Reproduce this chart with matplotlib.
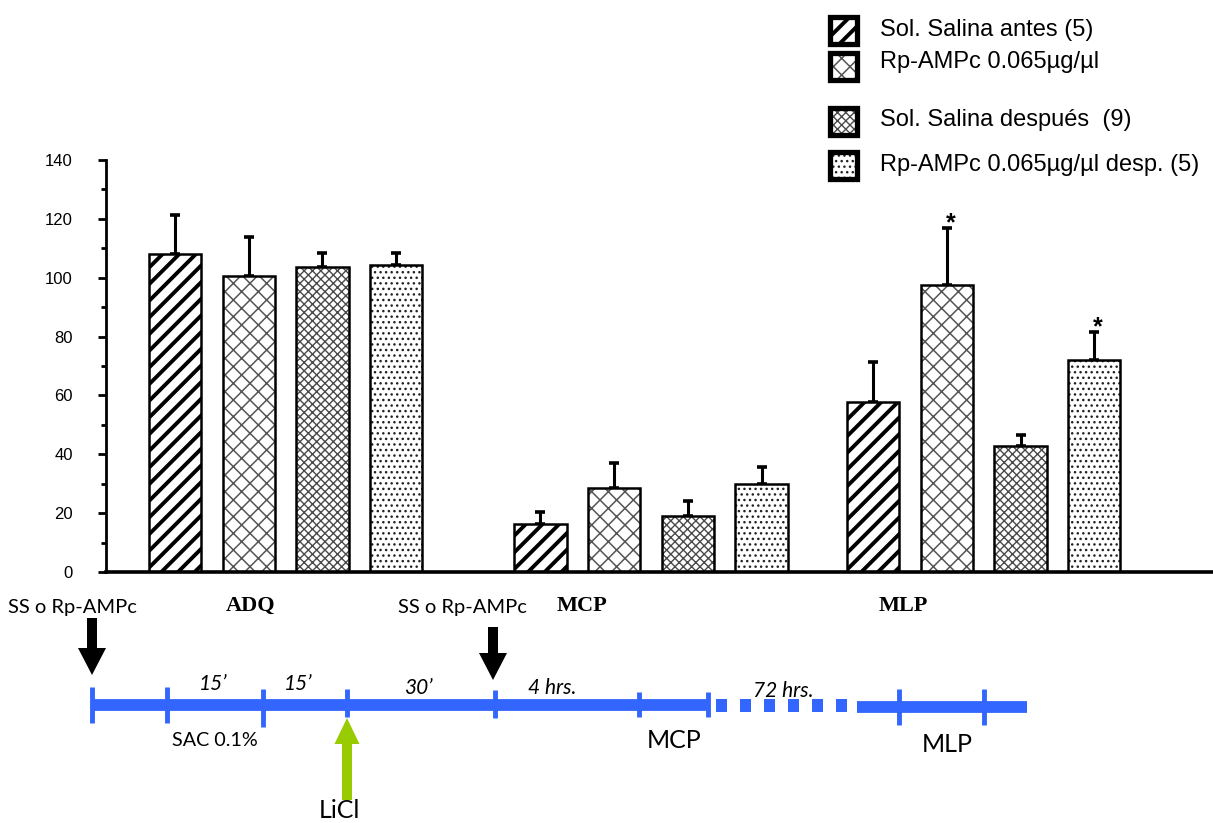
import matplotlib
matplotlib.use('Agg')
import numpy as np
import matplotlib.pyplot as plt
from matplotlib.patches import Rectangle, FancyArrow

# bar values (mean, upper error) per group, 4 treatments each
groups = ['ADQ', 'MCP', 'MLP']
adq_means = [108.0, 100.6, 103.6, 104.3]
adq_err = [13.3, 13.4, 4.8, 4.1]
mcp_means = [16.3, 28.5, 19.0, 29.9]
mcp_err = [4.1, 8.5, 5.1, 5.8]
mlp_means = [57.8, 97.5, 42.8, 72.0]
mlp_err = [13.6, 19.4, 3.7, 9.6]
signif = [[False, False, False, False],
          [False, False, False, False],
          [False, True, False, True]]

labels = ['Sol. Salina antes (5)', 'Rp-AMPc 0.065\u00b5g/\u00b5l',
          'Sol. Salina despu\u00e9s  (9)', 'Rp-AMPc 0.065\u00b5g/\u00b5l desp. (5)']
yticks = [0, 20, 40, 60, 80, 100, 120, 140]

# hatch styles: (hatch, hatch colour, hatch linewidth)
styles = [('//', 'black', 2.8), ('xx', '#555555', 1.1),
          ('xxxx', '#4a4a4a', 1.0), ('...', '#222222', 1.0)]

W, H = 1213, 823
fig = plt.figure(figsize=(W / 100, H / 100), dpi=100)
ax = fig.add_axes([106 / W, (H - 572) / H, 1 - 106 / W, 412 / H])

pitch = 73.7
bar_w = 0.71
first_bar = [0.936, 5.895, 10.41]


def hatched_rect(axis, x, y, w, h, k, lw_edge, z=2):
    hatch, hcol, hlw = styles[k]
    with plt.rc_context({'hatch.linewidth': hlw}):
        p = Rectangle((x, y), w, h, facecolor='white', edgecolor=hcol,
                      linewidth=0, hatch=hatch, zorder=z)
        if hasattr(p, 'set_hatch_linewidth'):
            p.set_hatch_linewidth(hlw)
        axis.add_patch(p)
    axis.add_patch(Rectangle((x, y), w, h, fill=False, edgecolor='black',
                             linewidth=lw_edge, zorder=z + 0.1))


all_means = [adq_means, mcp_means, mlp_means]
all_err = [adq_err, mcp_err, mlp_err]
for g in range(3):
    xs = first_bar[g] + np.arange(4)
    for k in range(4):
        hatched_rect(ax, xs[k] - bar_w / 2, 0, bar_w, all_means[g][k], k, 1.8)
    ax.errorbar(xs, all_means[g], yerr=[np.zeros(4), all_err[g]], fmt='none',
                ecolor='black', elinewidth=2.2, capsize=3.5, capthick=2.6, zorder=1)
    for k in range(4):
        if signif[g][k]:
            ax.text(xs[k] + 0.05, all_means[g][k] + all_err[g][k] - 2.4, '*',
                    ha='center', va='bottom', fontsize=18, fontweight='bold',
                    family='Liberation Sans')

ax.set_xlim(0, (W - 106) / pitch)
ax.set_ylim(0, 140)
ax.set_yticks(yticks)
ax.set_yticks(np.arange(10, 140, 20), minor=True)
ax.set_xticks([])
ax.spines['top'].set_visible(False)
ax.spines['right'].set_visible(False)
ax.spines['left'].set_linewidth(2.0)
ax.spines['bottom'].set_linewidth(2.6)
ax.tick_params(axis='y', which='major', length=6, width=2, pad=18, labelsize=12)
ax.tick_params(axis='y', which='minor', length=3.5, width=2)
for t in ax.get_yticklabels():
    t.set_family('Liberation Sans')

# overlay in pixel coordinates for legend and timeline sketch
ov = fig.add_axes([0, 0, 1, 1], zorder=5)
ov.set_xlim(0, W)
ov.set_ylim(H, 0)
ov.axis('off')

leg_y = [17, 53, 108, 152]
leg_ty = [30, 62, 120, 165]
for k in range(4):
    hatched_rect(ov, 830, leg_y[k], 27, 27, k, 3.8, z=6)
    ov.text(880, leg_ty[k], labels[k], fontsize=17, family='Liberation Sans',
            va='center', ha='left')

# group labels
for name, gx in zip(groups, [251, 582, 903]):
    ov.text(gx, 606, name, fontsize=16, family='Liberation Serif',
            fontweight='bold', ha='center', va='center')

blue = '#3366ff'
tl_font = 'Lato'
ov.plot([92, 708], [705, 705], color=blue, lw=8.5, solid_capstyle='butt')
ov.plot([857, 1027], [707, 707], color=blue, lw=8.5, solid_capstyle='butt')
for sx in [716, 740, 764, 788, 812, 836]:
    ov.add_patch(Rectangle((sx, 699), 11, 13, color=blue, lw=0))
ticks_tl = [(92, 687, 723), (167, 687, 723), (263, 689, 727), (347, 689, 717),
            (495, 690, 718), (639, 692, 717), (708, 692, 717),
            (899, 689, 725), (984, 689, 725)]
for tx, y0, y1 in ticks_tl:
    ov.plot([tx, tx], [y0, y1], color=blue, lw=3.5, solid_capstyle='butt')

ov.add_patch(FancyArrow(92, 618, 0, 57, width=10, head_width=28, head_length=27,
                        length_includes_head=True, color='black', lw=0))
ov.add_patch(FancyArrow(493, 627, 0, 53, width=10, head_width=28, head_length=27,
                        length_includes_head=True, color='black', lw=0))
ov.add_patch(FancyArrow(347, 800, 0, -82, width=10, head_width=25, head_length=26,
                        length_includes_head=True, color='#99cc00', lw=0))

ov.text(72, 607, 'SS o Rp-AMPc', fontsize=14.5, family=tl_font, ha='center', va='center')
ov.text(462, 607, 'SS o Rp-AMPc', fontsize=14.5, family=tl_font, ha='center', va='center')
for s, tx, ty in [('15\u2019', 213, 684), ('15\u2019', 298, 684), ('30\u2019', 418, 688),
                  ('4 hrs.', 552, 688), ('72 hrs.', 783, 691)]:
    ov.text(tx, ty, s, fontsize=15, family=tl_font, style='italic',
            ha='center', va='center')
ov.text(215, 740, 'SAC 0.1%', fontsize=14.2, family=tl_font, ha='center', va='center')
ov.text(674, 741, 'MCP', fontsize=18, family=tl_font, ha='center', va='center')
ov.text(947, 745, 'MLP', fontsize=18, family=tl_font, ha='center', va='center')
ov.text(339, 810, 'LiCl', fontsize=18, family=tl_font, ha='center', va='center')

fig.savefig('out.png', dpi=100)
